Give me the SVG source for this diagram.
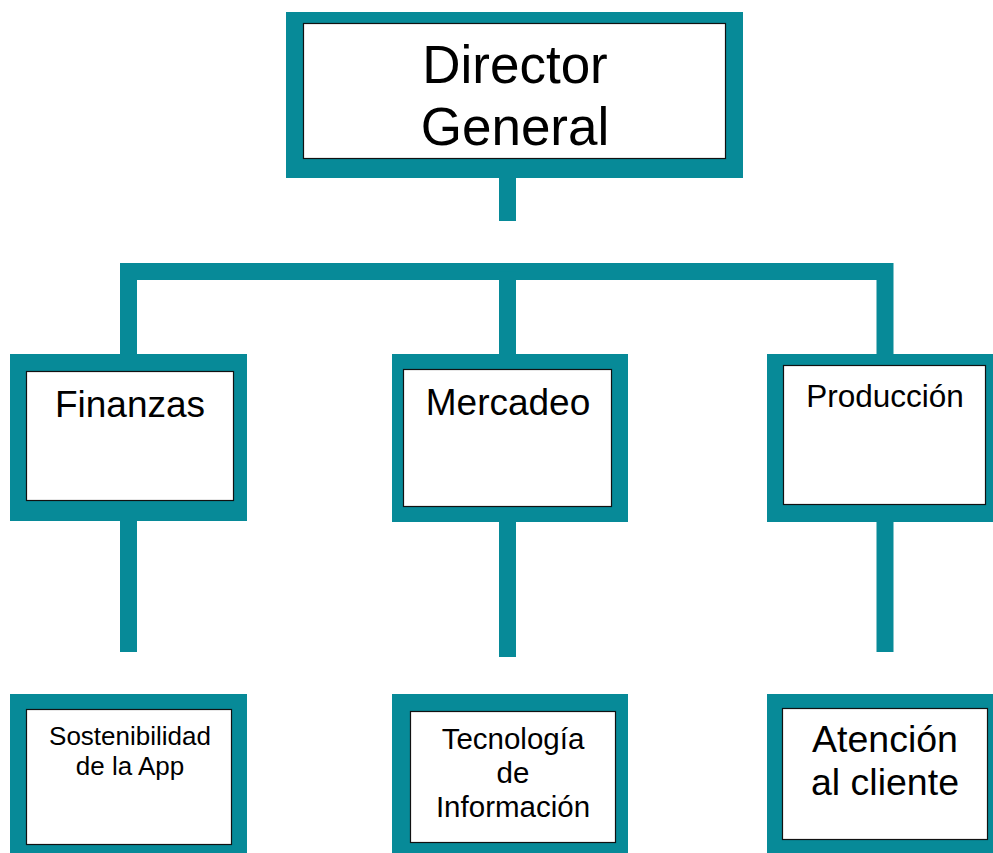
<svg xmlns="http://www.w3.org/2000/svg" width="993" height="853" viewBox="0 0 993 853">
<style>
.frame{fill:#078a98}
.inner{fill:#fff;stroke:#111;stroke-width:1.2}
.conn{fill:none;stroke:#078a98;stroke-width:17;stroke-linecap:butt;stroke-linejoin:miter}
text{font-family:"Liberation Sans",Arial,sans-serif;fill:#000;text-anchor:middle}
</style>
<rect width="993" height="853" fill="#fff"/>
<g id="connectors">
<path class="conn" d="M507.5 178 V221"/>
<path class="conn" d="M128.5 354 V271.5 H885 V354"/>
<path class="conn" d="M507.5 271.5 V354"/>
<path class="conn" d="M128.5 521 V652"/>
<path class="conn" d="M507.5 522 V657"/>
<path class="conn" d="M885 522 V652"/>
</g>
<g id="director">
<rect class="frame" x="286" y="12" width="457" height="166"/>
<rect class="inner" x="303.5" y="23.5" width="422" height="135"/>
<text font-size="53"><tspan x="515" y="83">Director</tspan><tspan x="515" y="145">General</tspan></text>
</g>
<g id="finanzas">
<rect class="frame" x="10" y="354" width="237" height="167"/>
<rect class="inner" x="26.5" y="371.5" width="207" height="129"/>
<text font-size="37" x="130" y="417">Finanzas</text>
</g>
<g id="mercadeo">
<rect class="frame" x="392" y="354" width="236" height="168"/>
<rect class="inner" x="403.5" y="369.5" width="208" height="137"/>
<text font-size="37" x="508" y="415">Mercadeo</text>
</g>
<g id="produccion">
<rect class="frame" x="767" y="354" width="226" height="168"/>
<rect class="inner" x="783.5" y="365.5" width="202" height="139"/>
<text font-size="31.5" x="885" y="407">Producción</text>
</g>
<g id="sostenibilidad">
<rect class="frame" x="10" y="694" width="237" height="159"/>
<rect class="inner" x="26.5" y="709.5" width="205" height="135"/>
<text font-size="26"><tspan x="130" y="745">Sostenibilidad</tspan><tspan x="130" y="775">de la App</tspan></text>
</g>
<g id="tecnologia">
<rect class="frame" x="392" y="694" width="236" height="159"/>
<rect class="inner" x="410.5" y="711.5" width="205" height="131"/>
<text font-size="29.5"><tspan x="513" y="749">Tecnología</tspan><tspan x="513" y="783">de</tspan><tspan x="513" y="817">Información</tspan></text>
</g>
<g id="atencion">
<rect class="frame" x="767" y="694" width="226" height="159"/>
<rect class="inner" x="782.5" y="708.5" width="205" height="131"/>
<text font-size="37.5"><tspan x="885" y="752">Atención</tspan><tspan x="885" y="795">al cliente</tspan></text>
</g>
</svg>
